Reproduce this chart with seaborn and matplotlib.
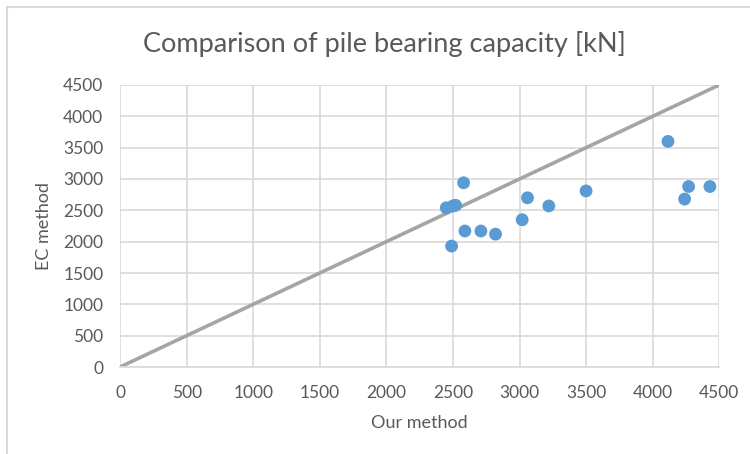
import matplotlib
matplotlib.use("Agg")
import matplotlib.pyplot as plt
import seaborn as sns
import pandas as pd
from matplotlib.patches import Rectangle

our_method = [4115, 2580, 2450, 2500, 2520, 3060, 3220, 3500, 4270, 4430,
              4240, 3020, 2590, 2710, 2820, 2490]
ec_method = [3600, 2940, 2540, 2570, 2580, 2700, 2570, 2810, 2880, 2880,
             2680, 2350, 2170, 2170, 2120, 1930]
line_x = [0, 4500]
line_y = [0, 4500]
ticks = list(range(0, 4501, 500))

sns.set_theme(style="white")
plt.rcParams['font.family'] = ['Lato', 'DejaVu Sans']

df = pd.DataFrame({"Our method": our_method, "EC method": ec_method})
line_df = pd.DataFrame({"x": line_x, "y": line_y})

fig = plt.figure(figsize=(7.5, 4.54), dpi=100)
ax = fig.add_axes([0.16, 0.1916, 0.799, 0.6212])

text_color = "#595959"
grid_color = "#D9D9D9"

sns.lineplot(data=line_df, x="x", y="y", ax=ax, color="#A5A5A5", linewidth=2.6, zorder=2)
sns.scatterplot(data=df, x="Our method", y="EC method", ax=ax, color="#5B9BD5",
                s=85, edgecolor="none", zorder=3)

ax.set_xlim(0, 4500)
ax.set_ylim(0, 4500)
ax.set_xticks(ticks)
ax.set_yticks(ticks)
ax.set_xticklabels([str(t) for t in ticks])
ax.set_yticklabels([str(t) for t in ticks])
ax.grid(True, color=grid_color, linewidth=1.2)
ax.set_axisbelow(True)
for side in ["top", "right", "left"]:
    ax.spines[side].set_visible(False)
ax.spines["bottom"].set_color(grid_color)
ax.spines["bottom"].set_linewidth(1.2)
ax.tick_params(axis="both", length=0, labelsize=12.5, colors=text_color)
ax.tick_params(axis="x", pad=13)
ax.tick_params(axis="y", pad=12)
ax.set_xlabel("Our method", fontsize=13, color=text_color, labelpad=10)
ax.set_ylabel("EC method", fontsize=13, color=text_color, labelpad=8)
fig.text(0.512, 0.902, "Comparison of pile bearing capacity [kN]", ha="center", va="center",
         fontsize=19.5, color=text_color)

fig.patches.append(Rectangle((0.0093, -0.02), 1.1, 1.0046, transform=fig.transFigure,
                             fill=False, edgecolor=grid_color, linewidth=1.5))

fig.savefig("out.png", dpi=100)
